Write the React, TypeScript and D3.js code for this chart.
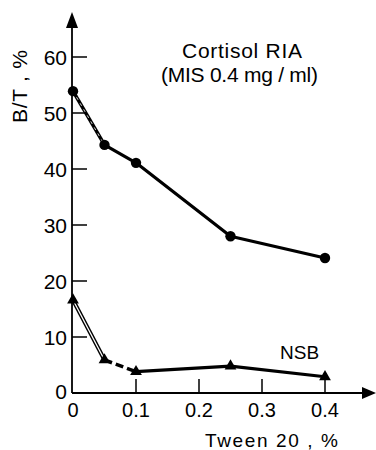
import React from "react";
import * as d3 from "d3";

const doses = [0, 0.05, 0.1, 0.25, 0.4];
const cortisolBT = [53.9, 44.3, 41.1, 28.0, 24.1];
const nsbBT = [16.6, 5.9, 3.8, 4.8, 2.9];
const xTicks = [0.1, 0.2, 0.3, 0.4];
const xTickLabels = ["0.1", "0.2", "0.3", "0.4"];
const yTicks = [10, 20, 30, 40, 50, 60];
const yTickLabels = ["10", "20", "30", "40", "50", "60"];
const title1 = "Cortisol RIA";
const title2 = "(MIS 0.4 mg / ml)";
const nsbLabel = "NSB";
const xLabel = "Tween 20 , %";
const yLabel = "B/T , %";

const W = 376;
const H = 450;
const FONT = "'Liberation Sans', Arial, sans-serif";

export default function App() {
  const x = d3.scaleLinear().domain([0, 0.4]).range([73, 325]);
  const y = d3.scaleLinear().domain([0, 60]).range([393, 57]);
  const x0 = x(0) - 1;
  const y0 = y(0);

  const pts = (vals: number[]) => doses.map((d, i) => [x(d), y(vals[i])] as [number, number]);
  const line = d3.line();
  const cPts = pts(cortisolBT);
  const nPts = pts(nsbBT);

  return (
    <svg width={W} height={H} style={{ position: "absolute", left: 0, top: 0, background: "#fff" }}
      fontFamily={FONT}>
      {/* axes */}
      <line x1={x0} y1={y0} x2={x0} y2={24} stroke="#000" strokeWidth={1.8} />
      <path d={`M${x0},12 L${x0 - 6},28 L${x0 + 6},28 Z`} fill="#000" />
      <line x1={x0} y1={y0} x2={364} y2={y0} stroke="#000" strokeWidth={1.8} />
      <path d={`M376,${y0} L362,${y0 - 6} L362,${y0 + 6} Z`} fill="#000" />

      {yTicks.map((t, i) => (
        <g key={"y" + t}>
          <line x1={x0} x2={x0 + 15} y1={y(t)} y2={y(t)} stroke="#000" strokeWidth={1.5} />
          <text x={67} y={y(t) + 7.5} textAnchor="end" fontSize={21} fill="#000">{yTickLabels[i]}</text>
        </g>
      ))}
      <text x={67} y={y0 + 6} textAnchor="end" fontSize={21}>0</text>

      {xTicks.map((t, i) => (
        <g key={"x" + t}>
          <line x1={x(t)} x2={x(t)} y1={y0} y2={y0 - 14} stroke="#000" strokeWidth={1.5} />
          <text x={x(t)} y={417} textAnchor="middle" fontSize={20}>{xTickLabels[i]}</text>
        </g>
      ))}
      <text x={x(0)} y={417} textAnchor="middle" fontSize={20}>0</text>

      {/* labels */}
      <text x={182} y={58} fontSize={21} textLength={120}>{title1}</text>
      <text x={161} y={82} fontSize={21} textLength={157}>{title2}</text>
      <text x={280} y={359} fontSize={19}>{nsbLabel}</text>
      <text x={205} y={447} fontSize={19} textLength={133}>{xLabel}</text>
      <text transform={`translate(27,123) rotate(-90)`} fontSize={21} textLength={73}>{yLabel}</text>

      {/* cortisol curve */}
      <path d={line(cPts.slice(0, 2)) || ""} stroke="#000" strokeWidth={3.5} fill="none" />
      <path d={line(cPts.slice(0, 2)) || ""} stroke="#fff" strokeWidth={0.8} strokeDasharray="3 4" fill="none" />
      <path d={line(cPts.slice(1)) || ""} stroke="#000" strokeWidth={3.2} fill="none" strokeLinejoin="round" />
      {cPts.map((p, i) => (
        <circle key={"c" + i} cx={p[0]} cy={p[1]} r={5.2} fill="#000" />
      ))}

      {/* NSB curve */}
      <path d={line(nPts.slice(0, 2)) || ""} stroke="#000" strokeWidth={4} fill="none" />
      <path d={line(nPts.slice(0, 2)) || ""} stroke="#fff" strokeWidth={1.3} fill="none" />
      <path d={line(nPts.slice(1, 3)) || ""} stroke="#000" strokeWidth={3.5} strokeDasharray="8 4" fill="none" />
      <path d={line(nPts.slice(2)) || ""} stroke="#000" strokeWidth={3.2} fill="none" strokeLinejoin="round" />
      {nPts.map((p, i) => (
        <path key={"n" + i} d={d3.symbol(d3.symbolTriangle, 60)() || ""}
          transform={`translate(${p[0]},${p[1]})`} fill="#000" />
      ))}
    </svg>
  );
}
